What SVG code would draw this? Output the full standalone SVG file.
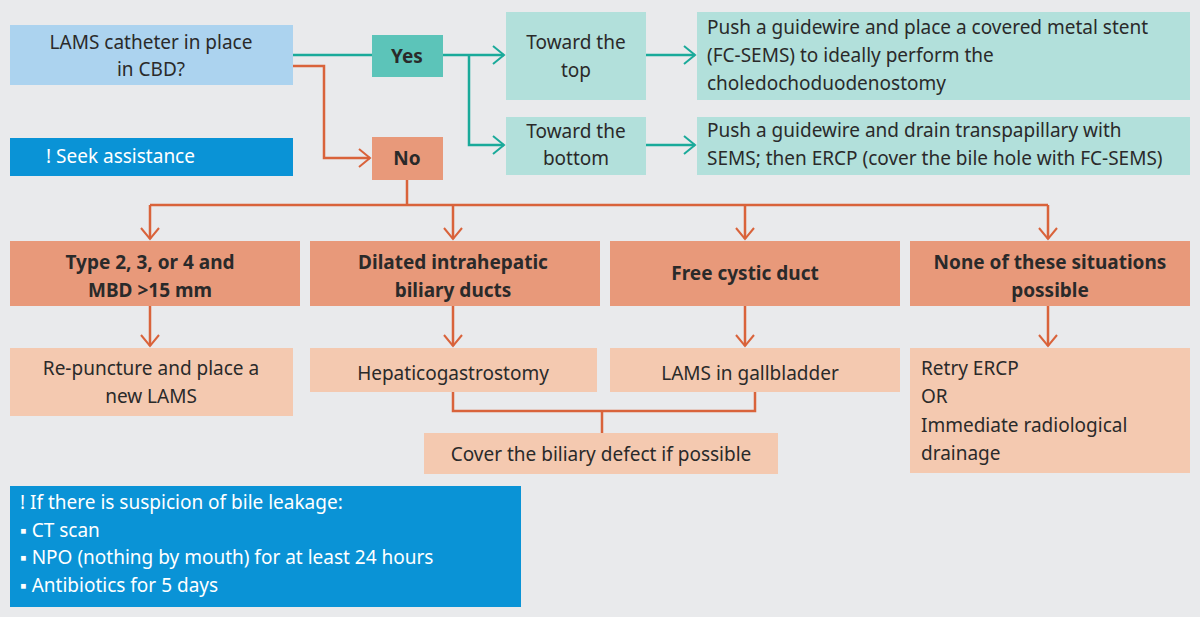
<svg xmlns="http://www.w3.org/2000/svg" width="1200" height="617" viewBox="0 0 1200 617">
<defs>
<marker id="at" markerWidth="14" markerHeight="20" refX="12" refY="10" orient="auto" markerUnits="userSpaceOnUse"><path d="M1,1 L12,10 L1,19" fill="none" stroke="#1aaa9a" stroke-width="2"/></marker>
<marker id="ao" markerWidth="14" markerHeight="20" refX="12" refY="10" orient="auto" markerUnits="userSpaceOnUse"><path d="M1,1 L12,10 L1,19" fill="none" stroke="#d9633b" stroke-width="2"/></marker>
</defs>
<style>
text{font-family:"Noto Sans","Open Sans",sans-serif;font-size:19px;fill:#2a2a2a}
.c{text-anchor:middle}
.b{font-weight:bold}
.w{fill:#fff}
.t{stroke:#1aaa9a;stroke-width:2.5;fill:none}
.o{stroke:#d9633b;stroke-width:2.5;fill:none}
.lb{fill:#acd3ef}.gy{fill:#5cc4b9}.lt{fill:#b2e0db}.bl{fill:#0a93d6}.or{fill:#e8997a}.lo{fill:#f4c9b0}
</style>
<rect width="1200" height="617" fill="#e9eaec"/>
<g id="connectors">
<path class="t" d="M293,55 H372"/>
<path class="t" d="M443,55 H504" marker-end="url(#at)"/>
<path class="t" d="M469,55 V145 H504" marker-end="url(#at)"/>
<path class="t" d="M646,55 H695" marker-end="url(#at)"/>
<path class="t" d="M646,145 H695" marker-end="url(#at)"/>
<path class="o" d="M293,66 H324 V158 H370" marker-end="url(#ao)"/>
<path class="o" d="M407,180 V205"/>
<path class="o" d="M150,205 H1048"/>
<path class="o" d="M150,205 V239" marker-end="url(#ao)"/>
<path class="o" d="M453,205 V239" marker-end="url(#ao)"/>
<path class="o" d="M745,205 V239" marker-end="url(#ao)"/>
<path class="o" d="M1048,205 V239" marker-end="url(#ao)"/>
<path class="o" d="M150,306 V346" marker-end="url(#ao)"/>
<path class="o" d="M453,306 V346" marker-end="url(#ao)"/>
<path class="o" d="M745,306 V346" marker-end="url(#ao)"/>
<path class="o" d="M1048,306 V346" marker-end="url(#ao)"/>
<path class="o" d="M453,392 V411 H755 V392"/>
<path class="o" d="M602,411 V433"/>
</g>
<g id="q"><rect class="lb" x="10" y="25" width="283" height="60"/><text class="c" x="151" y="49">LAMS catheter in place</text><text class="c" x="151" y="76">in CBD?</text></g>
<g id="seek"><rect class="bl" x="10" y="138" width="283" height="38"/><text class="w" x="46" y="163">!  Seek assistance</text></g>
<g id="yes"><rect class="gy" x="372" y="35" width="71" height="42"/><text class="c b" x="407" y="63">Yes</text></g>
<g id="no"><rect class="or" x="372" y="137" width="71" height="43"/><text class="c b" x="407" y="165">No</text></g>
<g id="top"><rect class="lt" x="506" y="12" width="140" height="88"/><text class="c" x="576" y="49">Toward the</text><text class="c" x="576" y="77">top</text></g>
<g id="bottom"><rect class="lt" x="506" y="117" width="140" height="58"/><text class="c" x="576" y="138">Toward the</text><text class="c" x="576" y="165">bottom</text></g>
<g id="topr"><rect class="lt" x="697" y="12" width="493" height="88"/><text x="707" y="34">Push a guidewire and place a covered metal stent</text><text x="707" y="62">(FC-SEMS) to ideally perform the</text><text x="707" y="90">choledochoduodenostomy</text></g>
<g id="botr"><rect class="lt" x="697" y="117" width="493" height="58"/><text x="707" y="137">Push a guidewire and drain transpapillary with</text><text x="707" y="165">SEMS; then ERCP (cover the bile hole with FC-SEMS)</text></g>
<g id="c1"><rect class="or" x="10" y="241" width="290" height="65"/><text class="c b" x="150" y="269">Type 2, 3, or 4 and</text><text class="c b" x="150" y="297">MBD &gt;15 mm</text></g>
<g id="c2"><rect class="or" x="310" y="241" width="290" height="65"/><text class="c b" x="453" y="269">Dilated intrahepatic</text><text class="c b" x="453" y="297">biliary ducts</text></g>
<g id="c3"><rect class="or" x="610" y="241" width="290" height="65"/><text class="c b" x="745" y="280">Free cystic duct</text></g>
<g id="c4"><rect class="or" x="910" y="241" width="280" height="65"/><text class="c b" x="1050" y="269">None of these situations</text><text class="c b" x="1050" y="297">possible</text></g>
<g id="r1"><rect class="lo" x="10" y="348" width="283" height="68"/><text class="c" x="151" y="375">Re-puncture and place a</text><text class="c" x="151" y="403">new LAMS</text></g>
<g id="r2"><rect class="lo" x="310" y="348" width="287" height="44"/><text class="c" x="453" y="380">Hepaticogastrostomy</text></g>
<g id="r3"><rect class="lo" x="610" y="348" width="290" height="44"/><text class="c" x="750" y="380">LAMS in gallbladder</text></g>
<g id="r4"><rect class="lo" x="910" y="348" width="280" height="125"/><text x="921" y="375">Retry ERCP</text><text x="921" y="403">OR</text><text x="921" y="432">Immediate radiological</text><text x="921" y="460">drainage</text></g>
<g id="cover"><rect class="lo" x="424" y="433" width="354" height="41"/><text class="c" x="601" y="461">Cover the biliary defect if possible</text></g>
<g id="info"><rect class="bl" x="10" y="486" width="511" height="121"/><text class="w" x="20" y="509">!  If there is suspicion of bile leakage:</text><text class="w" x="20" y="537">▪ CT scan</text><text class="w" x="20" y="564">▪ NPO (nothing by mouth) for at least 24 hours</text><text class="w" x="20" y="592">▪ Antibiotics for 5 days</text></g>
</svg>
